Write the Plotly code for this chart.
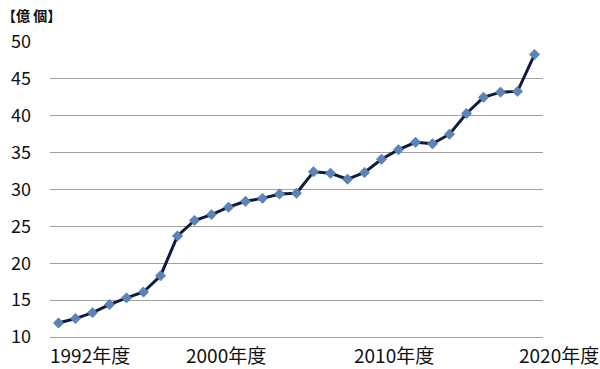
import plotly.graph_objects as go

years = list(range(1992, 2021))
values = [11.9, 12.5, 13.3, 14.4, 15.3, 16.1, 18.3, 23.7, 25.8, 26.6, 27.6,
          28.4, 28.8, 29.4, 29.5, 32.4, 32.2, 31.4, 32.3, 34.1, 35.4, 36.4,
          36.2, 37.5, 40.3, 42.5, 43.2, 43.3, 48.3]
label_years = [1992, 2000, 2010, 2020]
label_texts = ["1992年度", "2000年度", "2010年度", "2020年度"]
label_shift_px = [-11, -11, -13, -18]
y_ticks = [10, 15, 20, 25, 30, 35, 40, 45, 50]
unit_label = "【億 個】"

FONT = "Noto Sans CJK JP"

fig = go.Figure()
fig.add_trace(go.Scatter(
    x=years, y=values, mode="lines+markers",
    line=dict(color="#101c3c", width=3),
    marker=dict(symbol="diamond", size=8, color="#5b84b8",
                line=dict(color="#4a6f9e", width=0.5)),
    showlegend=False,
))

for yr, txt, sh in zip(label_years, label_texts, label_shift_px):
    fig.add_annotation(x=yr, y=0, xref="x", yref="paper",
                       yanchor="top", xanchor="left", yshift=-2, xshift=sh,
                       text=txt, showarrow=False,
                       font=dict(family=FONT, size=19, color="#111111"))

fig.add_annotation(x=0, y=1, xref="paper", yref="paper", xanchor="left", yanchor="top",
                   text="<b>" + unit_label + "</b>", showarrow=False,
                   xshift=-50, yshift=39,
                   font=dict(family=FONT, size=14, color="#111111"))

fig.update_layout(
    width=600, height=369,
    margin=dict(l=50, r=57, t=42, b=32),
    paper_bgcolor="white", plot_bgcolor="white",
    xaxis=dict(range=[1991.5, 2020.5], showgrid=False, zeroline=False,
               showticklabels=False, showline=True, linecolor="#a0a0a0",
               linewidth=1.3, ticks=""),
    yaxis=dict(range=[10, 50], tickvals=y_ticks, showgrid=True,
               gridcolor="#a0a0a0", gridwidth=1.3, zeroline=False,
               showline=False, ticks="", ticklabelstandoff=18,
               tickfont=dict(family=FONT, size=18, color="#111111")),
)

fig.write_html("out.html")
